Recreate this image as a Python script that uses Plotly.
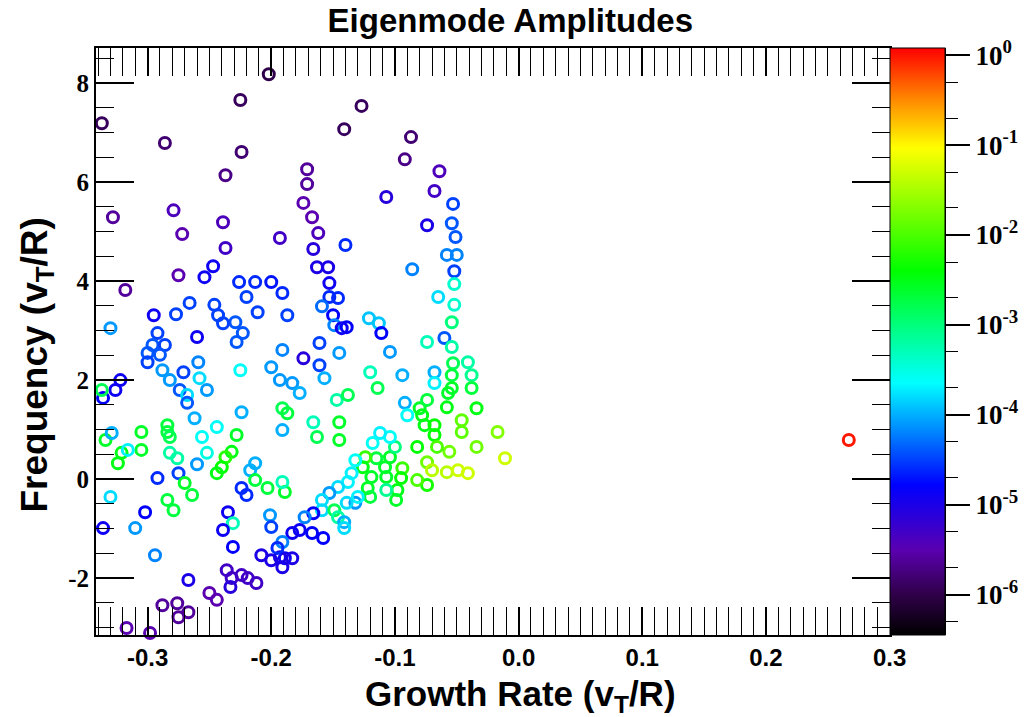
import plotly.graph_objects as go

# ---- data (growth rate, frequency, log10 amplitude) ----
growth_rate = [
    -0.324, -0.337, -0.328, -0.318, -0.286, -0.279, -0.272, -0.275, -0.202, -0.225,
    -0.224, -0.237, -0.239, -0.237, -0.193, -0.247, -0.254, -0.295, -0.277, -0.266,
    -0.246, -0.226, -0.213, -0.200, -0.191, -0.220, -0.211, -0.229, -0.330,
    -0.127, -0.141, -0.087, -0.092, -0.064, -0.068, -0.171, -0.171, -0.174, -0.167,
    -0.107, -0.053, -0.074, -0.054, -0.051, -0.162, -0.166, -0.163, -0.154, -0.140,
    -0.058, -0.050, -0.052, -0.086, -0.153, -0.153, -0.146, -0.159, -0.150, -0.149,
    -0.139, -0.052, -0.065, -0.052, -0.054, -0.121, -0.113, -0.187,
    -0.143, -0.111, -0.161, -0.174, -0.161, -0.145, -0.104, -0.074, -0.060, -0.054,
    -0.053, -0.041, -0.191, -0.183, -0.177, -0.157, -0.120, -0.114, -0.094, -0.068,
    -0.068, -0.054, -0.054, -0.038, -0.038, -0.147, -0.138, -0.191, -0.187, -0.191,
    -0.166, -0.145, -0.145, -0.163, -0.092, -0.090, -0.080, -0.078, -0.074, -0.076,
    -0.068, -0.068, -0.058, -0.057, -0.046, -0.046, -0.034, -0.017, -0.034, -0.011,
    -0.056, -0.066, -0.082, -0.074, -0.070, -0.058, -0.049, -0.041, -0.074, -0.082,
    -0.094, -0.095, -0.098, -0.104, -0.100, -0.104, -0.112, -0.118, -0.115, -0.108,
    -0.107, -0.107, -0.099, -0.119, -0.124, -0.126, -0.132, -0.135, -0.138, -0.122,
    -0.120, -0.146, -0.132, -0.130, -0.139, -0.153, -0.159, -0.159, -0.166, -0.173,
    -0.149, -0.146, -0.141, -0.141, -0.177, -0.183, -0.167, -0.158, -0.191, -0.189,
    -0.183, -0.191,
    -0.342, -0.292, -0.296, -0.286, -0.300, -0.290, -0.300, -0.260, -0.243, -0.239,
    -0.228, -0.223, -0.259, -0.288, -0.282, -0.271, -0.274, -0.268, -0.268, -0.258,
    -0.252, -0.225, -0.200, -0.193, -0.322, -0.326, -0.336, -0.337, -0.262, -0.224,
    -0.244, -0.284, -0.284, -0.282, -0.305, -0.305, -0.334, -0.329, -0.321, -0.324,
    -0.316, -0.256, -0.252, -0.260, -0.282, -0.276, -0.228, -0.232, -0.237, -0.240,
    -0.244, -0.275, -0.292, -0.270, -0.264, -0.224, -0.220, -0.217, -0.213, -0.213,
    -0.203, -0.189, -0.191, -0.330, -0.284, -0.279, -0.302, -0.336, -0.310, -0.235,
    -0.231, -0.239, -0.231, -0.294, -0.201, -0.200, -0.208, -0.200, -0.193, -0.195,
    -0.267, -0.236, -0.232, -0.224, -0.219, -0.212, -0.233, -0.250, -0.244, -0.288,
    -0.276, -0.275, -0.267, -0.317, -0.298,
    0.267,
]
frequency = [
    8.73, 7.19, 5.29, 3.82, 6.79, 5.43, 4.95, 4.12, 8.18, 7.66,
    6.61, 6.14, 5.19, 4.67, 4.87, 4.30, 4.08, 3.31, 3.33, 3.56,
    3.52, 3.98, 3.98, 3.98, 3.76, 3.68, 3.37, 3.17, 3.05,
    7.54, 7.07, 6.91, 6.46, 6.22, 5.82, 6.26, 5.96, 5.58, 5.29,
    5.70, 5.56, 5.13, 5.17, 4.89, 4.97, 4.65, 4.28, 4.28, 4.73,
    4.53, 4.53, 4.20, 4.24, 3.96, 3.68, 3.66, 3.49, 3.31, 3.11,
    3.07, 3.94, 3.68, 3.52, 3.17, 3.25, 3.15, 3.31,
    3.05, 2.95, 2.75, 2.44, 2.30, 2.55, 2.57, 2.77, 2.85, 2.67,
    2.34, 2.36, 2.61, 1.94, 1.74, 2.04, 2.16, 1.84, 2.10, 2.16,
    1.94, 2.10, 1.84, 2.10, 1.84, 1.60, 1.70, 1.43, 1.33, 0.99,
    1.15, 1.15, 0.79, 0.85, 1.54, 1.29, 1.43, 1.29, 1.60, 1.09,
    1.09, 0.89, 1.45, 1.74, 1.19, 0.95, 1.43, 0.95, 0.65, 0.42,
    0.55, 0.65, 0.65, 0.34, 0.18, 0.14, 0.18, 0.12, -0.12, -0.02,
    0.22, 0.02, -0.22, 0.44, 0.65, 0.85, 0.93, 0.73, 0.42, 0.24,
    0.04, -0.22, -0.42, 0.04, 0.44, 0.24, 0.38, 0.12, -0.06, -0.18,
    -0.36, -0.16, -0.48, -0.36, -0.48, -0.28, -0.42, -0.63, -0.69, -0.77,
    -0.63, -0.77, -0.87, -0.99, -1.03, -1.09, -1.09, -1.19, -1.27, -1.60,
    -1.60, -1.78,
    2.71, 2.95, 2.71, 2.71, 2.55, 2.51, 2.36, 2.87, 3.31, 3.15,
    2.77, 2.95, 2.36, 2.20, 2.00, 2.16, 1.80, 1.70, 1.54, 2.04,
    1.80, 2.20, 2.26, 2.00, 2.00, 1.80, 1.64, 1.80, 1.23, 1.35,
    1.05, 1.09, 0.95, 0.85, 0.95, 0.59, 0.79, 0.93, 0.53, 0.32,
    0.59, 0.85, 0.53, 0.30, 0.53, 0.42, 0.89, 0.55, 0.44, 0.24,
    0.12, 0.12, 0.02, -0.08, -0.32, -0.18, -0.32, 0.18, 0.32, -0.02,
    -0.18, -0.26, -0.06, -0.36, -0.42, -0.63, -0.67, -0.99, -0.99, -0.67,
    -0.89, -1.03, -1.37, -1.54, -0.73, -0.97, -1.54, -1.64, -1.58, -1.39,
    -2.04, -1.84, -2.00, -1.94, -2.00, -2.10, -2.18, -2.30, -2.44, -2.55,
    -2.51, -2.79, -2.69, -3.01, -3.11,
    0.79,
]
log_amplitude = [
    -6.3, -5.9, -5.6, -5.6, -5.8, -5.4, -5.5, -5.5, -6.0, -5.9,
    -5.8, -5.7, -5.4, -5.3, -5.3, -4.9, -4.9, -4.9, -4.5, -4.5,
    -4.5, -4.6, -4.6, -4.7, -4.6, -4.5, -4.5, -4.4, -4.1,
    -5.9, -5.9, -5.8, -5.7, -5.4, -5.3, -5.6, -5.6, -5.5, -5.5,
    -5.1, -4.5, -5.0, -4.4, -4.4, -5.4, -5.1, -5.0, -5.0, -4.6,
    -4.2, -4.2, -4.5, -4.2, -4.9, -4.6, -4.6, -4.3, -4.8, -4.2,
    -4.8, -3.4, -3.8, -3.4, -3.0, -3.9, -3.9, -4.5,
    -4.9, -4.8, -4.5, -5.1, -4.5, -4.1, -4.1, -3.3, -4.4, -3.2,
    -2.8, -3.2, -4.2, -4.1, -4.0, -4.0, -3.3, -2.8, -4.0, -4.0,
    -3.7, -2.7, -2.6, -3.1, -2.7, -3.2, -2.8, -2.8, -2.7, -4.0,
    -3.3, -2.6, -2.6, -2.8, -4.0, -3.6, -2.6, -2.5, -2.7, -2.5,
    -2.4, -2.4, -2.5, -2.6, -1.9, -1.9, -2.5, -1.7, -1.8, -1.3,
    -1.8, -2.0, -2.4, -1.8, -1.4, -1.4, -1.3, -1.3, -2.3, -2.0,
    -2.1, -2.4, -2.5, -2.6, -3.0, -3.6, -3.7, -3.6, -2.7, -2.6,
    -2.6, -3.1, -2.6, -2.6, -2.1, -2.5, -3.6, -3.7, -3.7, -2.6,
    -2.7, -3.8, -4.1, -3.7, -3.8, -4.1, -3.8, -3.8, -4.8, -4.2,
    -2.8, -3.2, -4.0, -3.8, -4.9, -4.9, -4.8, -4.8, -4.2, -4.9,
    -5.0, -5.0,
    -3.8, -4.5, -4.4, -4.5, -4.4, -4.4, -4.5, -4.9, -4.5, -4.5,
    -4.4, -4.4, -4.2, -4.1, -4.1, -4.5, -4.4, -3.8, -4.4, -3.8,
    -4.1, -3.6, -4.1, -4.1, -4.9, -4.9, -4.8, -2.8, -4.0, -4.0,
    -3.6, -2.7, -2.7, -2.8, -2.6, -2.6, -2.6, -4.0, -2.5, -2.5,
    -3.7, -3.6, -3.5, -4.1, -3.2, -3.2, -2.6, -2.5, -2.2, -2.4,
    -2.5, -4.5, -4.6, -2.6, -2.7, -4.6, -4.6, -4.0, -4.0, -2.7,
    -2.7, -2.6, -3.3, -3.8, -2.7, -2.7, -4.8, -4.9, -4.1, -4.9,
    -3.3, -4.9, -4.8, -4.2, -4.1, -4.5, -5.0, -5.0, -5.0, -4.6,
    -5.0, -5.3, -5.3, -5.3, -5.3, -5.3, -5.1, -5.5, -5.5, -5.6,
    -5.6, -5.6, -5.6, -5.5, -5.5,
    -0.02,
]

x_tickvals = [-0.3, -0.2, -0.1, 0.0, 0.1, 0.2, 0.3]
x_ticktext = ["-0.3", "-0.2", "-0.1", "0.0", "0.1", "0.2", "0.3"]
y_tickvals = [-2, 0, 2, 4, 6, 8]
y_ticktext = ["-2", "0", "2", "4", "6", "8"]
cb_tickvals = [1e-6, 1e-5, 1e-4, 1e-3, 1e-2, 1e-1, 1.0]
cb_ticktext = ["10<sup>-6</sup>", "10<sup>-5</sup>", "10<sup>-4</sup>", "10<sup>-3</sup>",
               "10<sup>-2</sup>", "10<sup>-1</sup>", "10<sup>0</sup>"]

LOG_MIN, LOG_MAX = -6.45, 0.08

colorscale = [
    [0.0, "#000000"],
    [0.07, "#30004a"],
    [0.145, "#5a00b0"],
    [0.255, "#0000ff"],
    [0.43, "#00ffff"],
    [0.62, "#00ff00"],
    [0.83, "#ffff00"],
    [0.91, "#ff8c00"],
    [1.0, "#ff0000"],
]

SANS = "Liberation Sans, Arial, sans-serif"
SERIF = "Liberation Serif, Times New Roman, serif"

fig = go.Figure()
fig.add_trace(go.Scatter(
    x=growth_rate, y=frequency, mode="markers", cliponaxis=False,
    marker=dict(
        symbol="circle-open", size=11, color=log_amplitude,
        colorscale=colorscale, cmin=LOG_MIN, cmax=LOG_MAX,
        line=dict(width=3),
        colorbar=dict(
            x=0.9352, xanchor="left", xref="paper", thickness=55, thicknessmode="pixels",
            len=1, lenmode="fraction", y=0.5, yanchor="middle", ypad=0, xpad=0,
            outlinewidth=1, outlinecolor="black",
            showticklabels=False, ticks="",
        ),
    ),
    hoverinfo="skip", showlegend=False,
))
# helper trace so the colour-bar scale axis is drawn
fig.add_trace(go.Scatter(
    x=[-0.3], y=[1e-3], yaxis="y2", mode="markers",
    marker=dict(opacity=0), hoverinfo="skip", showlegend=False,
))

fig.update_layout(
    width=1033, height=717,
    margin=dict(l=96, r=88, t=48, b=82),
    paper_bgcolor="white", plot_bgcolor="white",
    title=dict(text="<b>Eigenmode Amplitudes</b>", x=0.494, xref="container",
               y=0.972, yref="container", xanchor="center", yanchor="middle",
               font=dict(family=SANS, size=33, color="black")),
    xaxis=dict(
        domain=[0, 0.9352], range=[-0.3417, 0.3003],
        tickmode="array", tickvals=x_tickvals, ticktext=x_ticktext,
        ticks="inside", ticklen=28, tickwidth=1.5, tickcolor="black",
        minor=dict(dtick=0.01, ticks="inside", ticklen=11, tickwidth=1.3, tickcolor="black", showgrid=False),
        showline=True, linewidth=2, linecolor="black", mirror="allticks",
        showgrid=False, zeroline=False,
        tickfont=dict(family=SANS, size=24, color="black", weight="bold"),
    ),
    yaxis=dict(
        range=[-3.15, 8.71],
        tickmode="array", tickvals=y_tickvals, ticktext=y_ticktext,
        ticks="inside", ticklen=38, tickwidth=1.5, tickcolor="black",
        minor=dict(dtick=0.5, ticks="inside", ticklen=18, tickwidth=1.3, tickcolor="black", showgrid=False),
        showline=True, linewidth=2, linecolor="black", mirror="allticks",
        showgrid=False, zeroline=False,
        tickfont=dict(family=SERIF, size=25, color="black", weight="bold"),
    ),
    yaxis2=dict(
        overlaying="y", anchor="free", position=1.0, side="right",
        type="log", range=[LOG_MIN, LOG_MAX],
        tickmode="array", tickvals=cb_tickvals, ticktext=cb_ticktext,
        ticks="outside", ticklen=24, tickwidth=1.5, tickcolor="black",
        minor=dict(ticks="outside", ticklen=12, tickwidth=1, tickcolor="black", showgrid=False),
        showline=True, linewidth=1, linecolor="black",
        showgrid=False, zeroline=False,
        tickfont=dict(family=SERIF, size=27, color="black", weight="bold"),
    ),
    annotations=[
        dict(text="<b>Growth Rate (v<sub>T</sub>/R)</b>", xref="paper", yref="paper",
             x=0.5, y=-0.104, xanchor="center", yanchor="middle", showarrow=False,
             font=dict(family=SANS, size=35, color="black")),
        dict(text="<b>Frequency (v<sub>T</sub>/R)</b>", xref="paper", yref="paper",
             x=-0.07, y=0.46, xanchor="center", yanchor="middle", showarrow=False,
             textangle=-90, font=dict(family=SANS, size=37, color="black")),
    ],
)

fig.write_html("out.html")
